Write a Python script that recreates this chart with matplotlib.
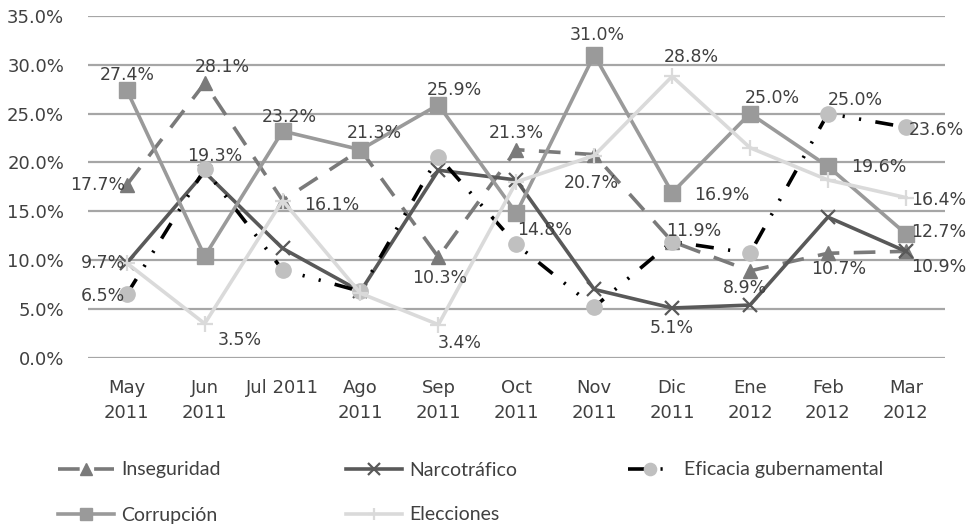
import numpy as np
import matplotlib
matplotlib.use("Agg")
import matplotlib.pyplot as plt
from matplotlib.ticker import FuncFormatter

months = ["May\n2011", "Jun\n2011", "Jul 2011", "Ago\n2011", "Sep\n2011", "Oct\n2011",
          "Nov\n2011", "Dic\n2011", "Ene\n2012", "Feb\n2012", "Mar\n2012"]

inseguridad = [17.7, 28.1, 16.1, 21.3, 10.3, 21.3, 20.8, 11.9, 8.9, 10.7, 10.9]
narcotrafico = [9.7, 19.0, 11.2, 6.8, 19.2, 18.2, 7.0, 5.1, 5.4, 14.4, 10.9]
eficacia = [6.5, 19.3, 9.0, 6.8, 20.6, 11.6, 5.2, 11.9, 10.7, 25.0, 23.6]
corrupcion = [27.4, 10.4, 23.2, 21.3, 25.9, 14.8, 31.0, 16.9, 25.0, 19.6, 12.7]
elecciones = [9.7, 3.5, 16.1, 6.6, 3.4, 18.0, 20.7, 28.8, 21.5, 18.2, 16.4]

# which points carry a data label: (series, month index)
labelled = [
    ("corr", 0), ("ins", 0), ("narco", 0), ("efic", 0),
    ("ins", 1), ("efic", 1), ("elec", 1),
    ("corr", 2), ("elec", 2),
    ("corr", 3),
    ("corr", 4), ("ins", 4), ("elec", 4),
    ("ins", 5), ("corr", 5),
    ("corr", 6), ("elec", 6),
    ("elec", 7), ("corr", 7), ("efic", 7), ("narco", 7),
    ("corr", 8), ("ins", 8),
    ("efic", 9), ("corr", 9), ("ins", 9),
    ("efic", 10), ("elec", 10), ("corr", 10), ("ins", 10),
]
# label offsets in pixels (dx, dy) and alignment
label_pos = [
    (0, 15, "center"), (-2, 0, "right"), (-2, 0, "right"), (-2, -2, "right"),
    (18, 16, "center"), (10, 13, "center"), (35, -16, "center"),
    (7, 14, "center"), (22, -4, "left"),
    (14, 17, "center"),
    (16, 15, "center"), (1, -21, "center"), (21, -18, "center"),
    (0, 17, "center"), (28, -17, "center"),
    (3, 20, "center"), (-3, -27, "center"),
    (19, 19, "center"), (22, -2, "left"), (-6, 11, "left"), (0, -20, "center"),
    (22, 16, "center"), (-5, -17, "center"),
    (27, 14, "center"), (23, -1, "left"), (11, -16, "center"),
    (3, -3, "left"), (5, -2, "left"), (5, 2, "left"), (5, -16, "left"),
]

series = {
    "ins": inseguridad, "narco": narcotrafico, "efic": eficacia,
    "corr": corrupcion, "elec": elecciones,
}

fig = plt.figure(figsize=(9.76, 5.27), dpi=100)
ax = fig.add_axes([0.09, 0.321, 0.878, 0.649])
x = np.arange(len(months))

ax.set_ylim(0, 35)
ax.set_xlim(-0.5, len(months) - 0.5)
ax.set_yticks(np.arange(0, 36, 5))
ax.yaxis.set_major_formatter(FuncFormatter(lambda v, p: f"{v:.1f}%"))
ax.grid(axis="y", color="#a6a6a6", linewidth=1.6)
ax.set_axisbelow(True)
for s in ax.spines.values():
    s.set_visible(False)
ax.tick_params(length=0, labelsize=13, colors="#404040")
ax.tick_params(axis="y", pad=17)
ax.tick_params(axis="x", pad=15)
ax.set_xticks(x)
ax.set_xticklabels(months, linespacing=1.5)

lw = 2.6
h_ins, = ax.plot(x, inseguridad, color="#7a7a7a", lw=lw, dashes=(6, 4),
                 marker="^", ms=10, mfc="#7a7a7a", mec="#7a7a7a", label="Inseguridad")
h_narco, = ax.plot(x, narcotrafico, color="#595959", lw=lw, marker="x", ms=10,
                   mew=1.6, label="Narcotráfico")
h_efic, = ax.plot(x, eficacia, color="black", lw=lw, dashes=(5, 4, 0.6, 4, 0.6, 4),
                  marker="o", ms=11, mfc="#c0c0c0", mec="#c0c0c0", label="Eficacia gubernamental")
h_corr, = ax.plot(x, corrupcion, color="#9a9a9a", lw=lw, marker="s", ms=11,
                  mfc="#9a9a9a", mec="#9a9a9a", label="Corrupción")
h_elec, = ax.plot(x, elecciones, color="#dadada", lw=lw, marker="+", ms=11,
                  mew=1.6, label="Elecciones")

for (key, i), (dx, dy, ha) in zip(labelled, label_pos):
    v = series[key][i]
    ax.annotate(f"{v:.1f}%", (x[i], v), xytext=(dx * 0.72, dy * 0.72),
                textcoords="offset points", ha=ha, va="center",
                fontsize=12.5, color="#404040")

# legend entries placed one by one (pixel position of handle start, row centre)
legend_slots = [(h_ins, 58, 470), (h_narco, 346, 470), (h_efic, 628, 470),
                (h_corr, 58, 515), (h_elec, 346, 515)]
W, H = 976, 527
for h, px, py in legend_slots:
    hl = 2.3 if h is h_efic else 2.9
    pad = 0.6 if h is h_efic else 0.35
    leg = fig.legend(handles=[h], labels=[h.get_label()], loc="center left",
                     bbox_to_anchor=(px / W, 1 - py / H), frameon=False,
                     borderpad=0, borderaxespad=0, handlelength=hl, handletextpad=pad,
                     markerscale=0.8, prop={"family": "Lato", "size": 14})
    for t in leg.get_texts():
        t.set_color("#404040")

fig.savefig("out.png", dpi=100)
